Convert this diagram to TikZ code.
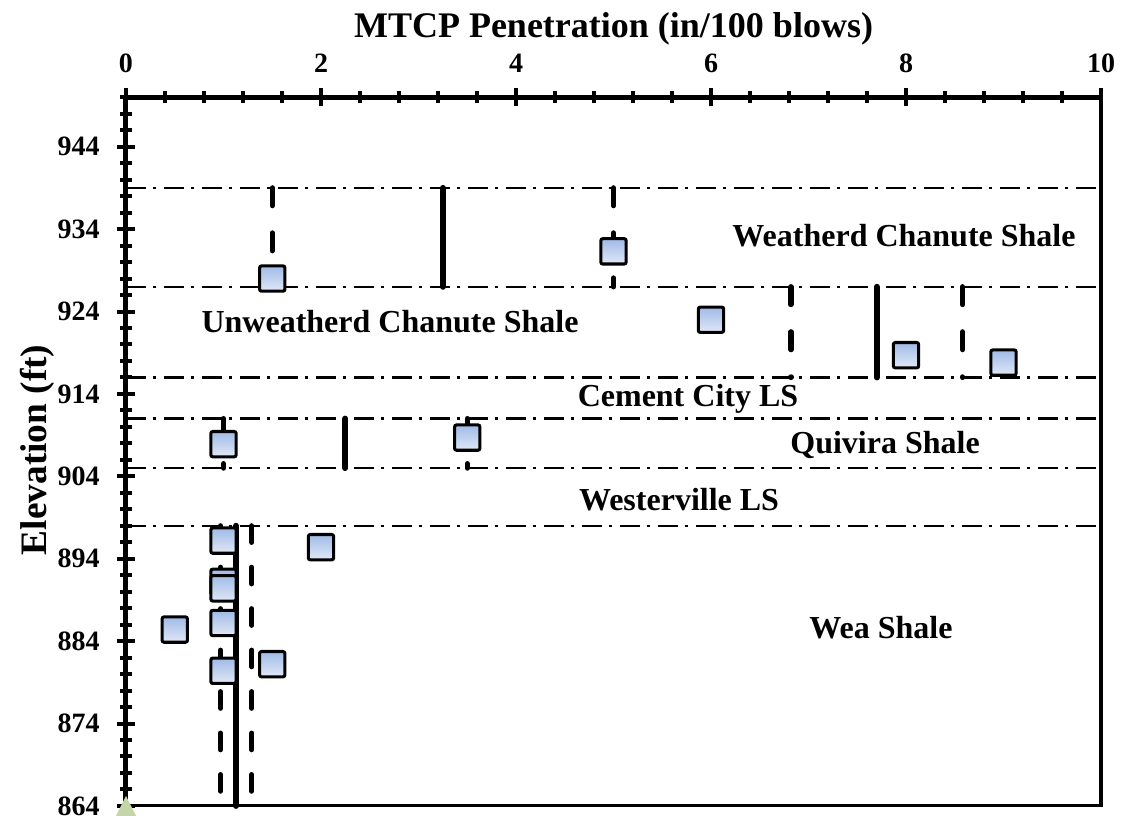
\documentclass[tikz,border=0pt]{standalone}
\usepackage{fontspec}
\setmainfont{Liberation Serif}
\definecolor{sqtop}{RGB}{160,186,230}
\definecolor{sqbot}{RGB}{224,232,247}
\definecolor{basegreen}{RGB}{196,214,168}
\begin{document}
\begin{tikzpicture}[x=73.125pt, y=6.18pt,
  font=\bfseries,
  layer/.style={line width=1.8pt, dash pattern=on 15pt off 5pt on 2.5pt off 6pt},
  meanbar/.style={line width=4.5pt, line cap=round},
  sdbar/.style={line width=4pt, line cap=round, dash pattern=on 13.3pt off 20.5pt},
  sdbarlow/.style={line width=3.8pt, line cap=round, dash pattern=on 12.5pt off 18.6pt},
  datum/.style={rectangle, draw=black, line width=2.3pt, rounded corners=1.5pt,
    minimum size=19pt, inner sep=0pt, top color=sqtop, bottom color=sqbot},
  axisline/.style={line width=3.75pt},
  frameline/.style={line width=2.3pt},
  tickmark/.style={line width=3pt},
  ticklabel/.style={font=\fontsize{21}{22}\selectfont\bfseries, inner sep=0pt},
  axistitle/.style={font=\fontsize{27}{29}\selectfont\bfseries, inner sep=0pt},
  unitlabel/.style={font=\fontsize{24}{26}\selectfont\bfseries, inner sep=0pt, anchor=base}
]
\useasboundingbox (-1.2923,862.544) rectangle (10.2462,961.816);

% stratigraphic boundaries
\foreach \e in {939,927,916,911,905,898}
  \draw[layer] (0,\e) -- (10,\e);

% unit names
\node[unitlabel] (weathered)   at (7.98,931.9) {Weatherd Chanute Shale};
\node[unitlabel] (unweathered) at (2.708,921.5) {Unweatherd Chanute Shale};
\node[unitlabel] (cementcity)  at (5.764,912.5) {Cement City LS};
\node[unitlabel] (quivira)     at (7.785,906.8) {Quivira Shale};
\node[unitlabel] (westerville) at (5.672,899.9) {Westerville LS};
\node[unitlabel] (wea)         at (7.744,884.3) {Wea Shale};

% mean and mean +/- standard deviation for each unit
\draw[sdbar]   (1.5,939) -- (1.5,927);
\draw[meanbar] (3.25,939) -- (3.25,927);
\draw[sdbar]   (5,939) -- (5,927);
\draw[sdbar]   (6.82,927) -- (6.82,916);
\draw[meanbar] (7.70,927) -- (7.70,916);
\draw[sdbar]   (8.58,927) -- (8.58,916);
\draw[sdbar]   (1,911) -- (1,905);
\draw[meanbar] (2.25,911) -- (2.25,905);
\draw[sdbar]   (3.5,911) -- (3.5,905);
\draw[sdbarlow] (0.97,898) -- (0.97,864);
\draw[meanbar]  (1.13,898) -- (1.13,864);
\draw[sdbarlow] (1.29,898) -- (1.29,864);

% MTCP readings
\node[datum] (p1)  at (1.5,928) {};
\node[datum] (p2)  at (5,931.3) {};
\node[datum] (p3)  at (6,923) {};
\node[datum] (p4)  at (8,918.7) {};
\node[datum] (p5)  at (9,917.8) {};
\node[datum] (p6)  at (1,907.9) {};
\node[datum] (p7)  at (3.5,908.7) {};
\node[datum] (p8)  at (1,896.2) {};
\node[datum] (p9)  at (2,895.4) {};
\node[datum] (p10) at (1,891.2) {};
\node[datum] (p11) at (1,890.4) {};
\node[datum] (p12) at (0.5,885.4) {};
\node[datum] (p13) at (1,886.2) {};
\node[datum] (p14) at (1,880.4) {};
\node[datum] (p15) at (1.5,881.2) {};

% frame
\draw[frameline] (0,864) -- (10,864) -- (10,950);

% top axis with ticks
\foreach \i in {0,...,25}{
  \pgfmathsetmacro\xx{\i*0.4}
  \draw[tickmark] (\xx,949.27) -- (\xx,950.73);
}
\foreach \v in {0,2,...,10}{
  \draw[tickmark] (\v,948.9) -- (\v,951.1);
  \node[ticklabel, anchor=base] (xl\v) at (\v,953.03) {\v};
}
\draw[axisline] (0,950) -- (10,950);

% left axis with ticks
\foreach \e in {864,866,...,950}
  \draw[tickmark] (-0.0615,\e) -- (0.0615,\e);
\foreach \e in {864,874,...,944}{
  \draw[tickmark] (-0.0923,\e) -- (0.0923,\e);
  \node[ticklabel, anchor=east] (yl\e) at (-0.267,\e) {\e};
}
\draw[axisline] (0,864) -- (0,950);

% reference point at the origin
\fill[basegreen] (0,865.21) -- (0.1026,862.79) -- (-0.1026,862.79) -- cycle;

% axis titles
\node[axistitle, anchor=base] (xtitle) at (5,957.2) {MTCP Penetration (in/100 blows)};
\node[axistitle, font=\fontsize{28}{30}\selectfont\bfseries, rotate=90] (ytitle) at (-0.913,907.2) {Elevation (ft)};
\end{tikzpicture}
\end{document}
